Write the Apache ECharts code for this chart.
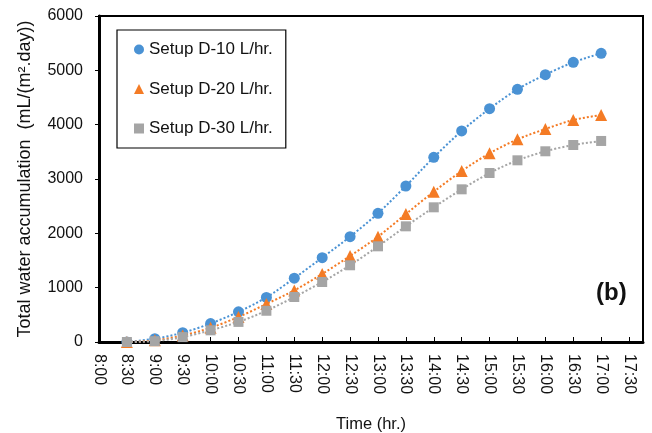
<!DOCTYPE html>
<html>
<head>
<meta charset="utf-8">
<script src="https://cdn.jsdelivr.net/npm/echarts@6/dist/echarts.min.js"></script>
<style>
html,body{margin:0;padding:0;background:#fff;}
#chart{width:652px;height:433px;}
</style>
</head>
<body>
<div id="chart"></div>
<script>
// Times (8:30 ... 17:00)
var timeLabels = ['8:30','9:00','9:30','10:00','10:30','11:00','11:30','12:00','12:30','13:00','13:30','14:00','14:30','15:00','15:30','16:00','16:30','17:00'];
var seriesNames = ['Setup D-10 L/hr.', 'Setup D-20 L/hr.', 'Setup D-30 L/hr.'];
var setupD10 = [0, 60, 170, 340, 555, 820, 1175, 1552, 1938, 2369, 2871, 3399, 3884, 4294, 4651, 4920, 5148, 5314];
var setupD20 = [0, 30, 120, 262, 460, 700, 950, 1252, 1583, 1938, 2356, 2766, 3147, 3473, 3730, 3920, 4086, 4178];
var setupD30 = [0, 15, 90, 215, 370, 575, 828, 1104, 1412, 1761, 2129, 2479, 2810, 3110, 3344, 3510, 3626, 3700];
var yTicks = [0, 1000, 2000, 3000, 4000, 5000, 6000];

function toMin(s){ var p = s.split(':'); return (+p[0])*60 + (+p[1]); }
function fmt(m){ var h = Math.floor(m/60), mm = m%60; return h + ':' + (mm<10?'0':'') + mm; }
function pairs(vals){ return timeLabels.map(function(t,i){ return [toMin(t), vals[i]]; }); }

var FONT = '"Liberation Sans", Arial, sans-serif';
var colors = ['#4A92D4', '#F47B25', '#A5A5A5'];
var symbols = ['circle', 'triangle', 'rect'];
var sizes = [11, 12, 10];
var datas = [setupD10, setupD20, setupD30];

var chart = echarts.init(document.getElementById('chart'), null, {renderer:'canvas'});
chart.setOption({
  animation: false,
  backgroundColor: '#fff',
  grid: {left: 99, right: 9, top: 16, bottom: 91, show: true, borderColor: '#000', borderWidth: 2,
         backgroundColor: 'transparent', containLabel: false, outerBoundsMode: 'none'},
  legend: {
    orient: 'vertical', left: 117, top: 30,
    itemWidth: 10, itemHeight: 10, itemGap: 22.5,
    padding: [11, 13, 11, 17],
    borderColor: '#000', borderWidth: 1.2,
    textStyle: {fontFamily: FONT, fontSize: 17, color: '#111'},
    data: seriesNames.map(function(n,i){ return {name: n, icon: symbols[i]}; })
  },
  xAxis: {
    type: 'value', min: 480, max: 1065, interval: 30,
    name: 'Time (hr.)', nameLocation: 'middle', nameGap: 74,
    nameTextStyle: {fontFamily: FONT, fontSize: 16.5, color: '#111'},
    axisLine: {show: true, onZero: false, lineStyle: {color: '#000', width: 3}},
    axisTick: {show: true, inside: true, length: 5, lineStyle: {color: '#000', width: 1}},
    axisLabel: {rotate: -90, margin: 12, fontFamily: FONT, fontSize: 16, color: '#111',
      formatter: function(v){ return (v % 30 === 0) ? fmt(v) : ''; }},
    splitLine: {show: false}
  },
  yAxis: {
    type: 'value', min: 0, max: 6000, interval: 1000,
    name: 'Total water accumulation  (mL/(m\u00B2.day))', nameLocation: 'middle', nameGap: 65,
    nameTextStyle: {fontFamily: FONT, fontSize: 18, color: '#111'},
    axisLine: {show: true, lineStyle: {color: '#000', width: 3}},
    axisTick: {show: true, inside: false, length: 4, lineStyle: {color: '#000', width: 1}},
    axisLabel: {margin: 16, fontFamily: FONT, fontSize: 16, color: '#111',
      formatter: function(v){ return yTicks.indexOf(v) >= 0 ? String(v) : ''; }},
    splitLine: {show: false}
  },
  graphic: [{
    type: 'text', left: 596, top: 281,
    style: {text: '(b)', font: 'bold 24px ' + FONT, fill: '#111'}
  }],
  series: datas.map(function(d,i){
    return {
      name: seriesNames[i], type: 'line', data: pairs(d),
      smooth: 0.3, symbol: symbols[i], symbolSize: sizes[i],
      itemStyle: {color: colors[i]},
      lineStyle: {color: colors[i], width: 2, type: [2, 2]},
      z: 2 + i
    };
  })
});
</script>
</body>
</html>
